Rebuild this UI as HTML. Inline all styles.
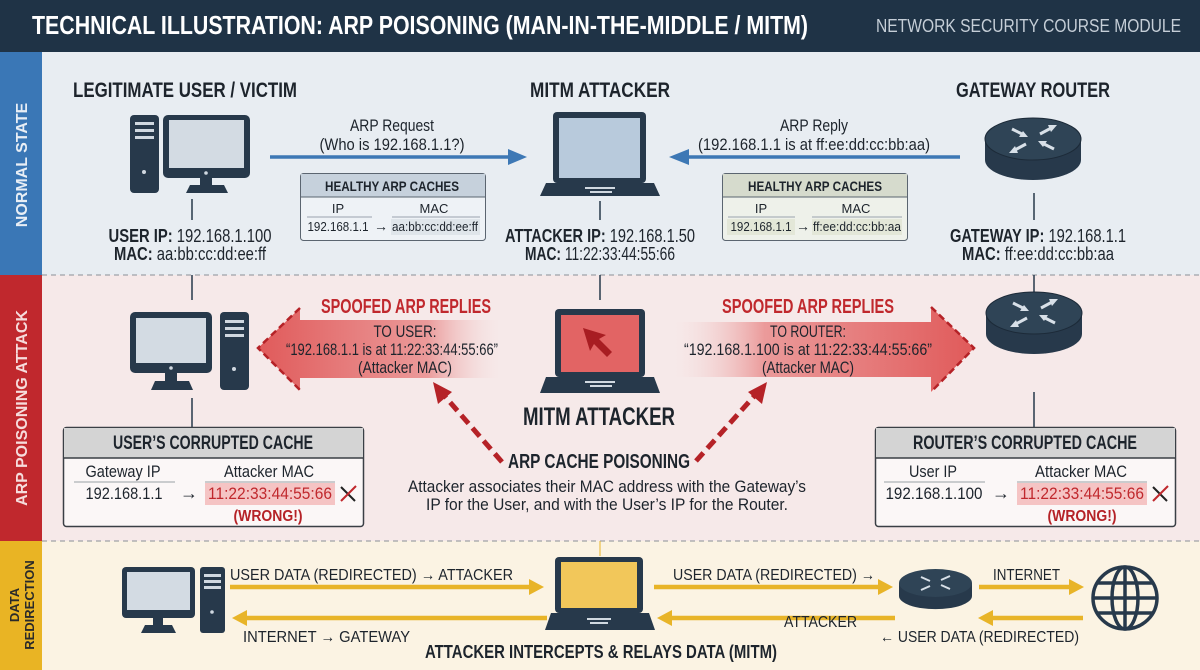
<!DOCTYPE html>
<html><head><meta charset="utf-8"><style>
html,body{margin:0;padding:0;background:#fff}
svg{display:block}
text{font-family:"Liberation Sans Narrow","Liberation Sans",sans-serif;fill:#1d242c}
.b{font-weight:bold}
</style></head><body>
<svg width="1200" height="670" viewBox="0 0 1200 670" xmlns="http://www.w3.org/2000/svg">
<defs>
<linearGradient id="gl" x1="0" x2="1" y1="0" y2="0"><stop offset="0" stop-color="#e05a5a"/><stop offset="0.7" stop-color="#eb9a9a"/><stop offset="1" stop-color="#f6e9e9" stop-opacity="0.2"/></linearGradient>
<linearGradient id="gr" x1="1" x2="0" y1="0" y2="0"><stop offset="0" stop-color="#e05a5a"/><stop offset="0.7" stop-color="#eb9a9a"/><stop offset="1" stop-color="#f6e9e9" stop-opacity="0.2"/></linearGradient>
</defs>
<rect x="0" y="0" width="1200" height="670" fill="#e8edf2"/>
<rect x="0" y="275" width="1200" height="266" fill="#f6e9e9"/>
<rect x="0" y="541" width="1200" height="129" fill="#fbf3e3"/>
<rect x="0" y="0" width="1200" height="52" fill="#1f3346"/>
<text x="32" y="34" class="b" font-size="26" style="fill:#fff" textLength="776" lengthAdjust="spacingAndGlyphs">TECHNICAL ILLUSTRATION: ARP POISONING (MAN-IN-THE-MIDDLE / MITM)</text>
<text x="876" y="32" font-size="18" style="fill:#c5ced7" textLength="305" lengthAdjust="spacingAndGlyphs">NETWORK SECURITY COURSE MODULE</text>
<rect x="0" y="52" width="42" height="223" fill="#3a77b6"/>
<rect x="0" y="275" width="42" height="266" fill="#c0282d"/>
<rect x="0" y="541" width="42" height="129" fill="#e9b424"/>
<text transform="translate(27,165) rotate(-90)" text-anchor="middle" class="b" font-size="16" style="fill:#e8eef5">NORMAL STATE</text>
<text transform="translate(27,408) rotate(-90)" text-anchor="middle" class="b" font-size="16" style="fill:#f6dcdc">ARP POISONING ATTACK</text>
<text transform="translate(19,605) rotate(-90)" text-anchor="middle" class="b" font-size="13" style="font-family:'Liberation Sans',sans-serif;fill:#2a2a2a">DATA</text>
<text transform="translate(34,605) rotate(-90)" text-anchor="middle" class="b" font-size="13" style="font-family:'Liberation Sans',sans-serif;fill:#2a2a2a">REDIRECTION</text>
<line x1="42" y1="275" x2="1200" y2="275" stroke="#8a8f96" stroke-dasharray="5,4" stroke-width="1"/>
<line x1="42" y1="541" x2="1200" y2="541" stroke="#8a8f96" stroke-dasharray="5,4" stroke-width="1"/>

<!-- NORMAL -->
<text x="185" y="97" text-anchor="middle" class="b" font-size="21" textLength="224" lengthAdjust="spacingAndGlyphs">LEGITIMATE USER / VICTIM</text>
<text x="600" y="97" text-anchor="middle" class="b" font-size="21" textLength="140" lengthAdjust="spacingAndGlyphs">MITM ATTACKER</text>
<text x="1033" y="97" text-anchor="middle" class="b" font-size="21" textLength="154" lengthAdjust="spacingAndGlyphs">GATEWAY ROUTER</text>
<rect x="130" y="115" width="29" height="78" rx="4" fill="#27394b"/>
<rect x="135" y="122" width="19" height="3" fill="#d0d8e0"/><rect x="135" y="129" width="19" height="3" fill="#d0d8e0"/><rect x="135" y="136" width="19" height="3" fill="#d0d8e0"/>
<circle cx="144" cy="172" r="2" fill="#d0d8e0"/>
<rect x="163" y="115" width="87" height="63" rx="5" fill="#27394b"/>
<rect x="169" y="120" width="75" height="48" fill="#d3dbe3"/>
<circle cx="206" cy="173" r="1.8" fill="#d0d8e0"/>
<rect x="200" y="178" width="12" height="8" fill="#27394b"/>
<path d="M186,193 L190,185 L224,185 L228,193z" fill="#27394b"/>
<line x1="192" y1="199" x2="192" y2="220" stroke="#27394b" stroke-width="1.5"/>
<text x="190" y="242" text-anchor="middle" font-size="18" textLength="163" lengthAdjust="spacingAndGlyphs"><tspan class="b">USER IP:</tspan> 192.168.1.100</text>
<text x="190" y="260" text-anchor="middle" font-size="18" textLength="152" lengthAdjust="spacingAndGlyphs"><tspan class="b">MAC:</tspan> aa:bb:cc:dd:ee:ff</text>
<text x="392" y="131" text-anchor="middle" font-size="17" textLength="84" lengthAdjust="spacingAndGlyphs">ARP Request</text>
<text x="392" y="150" text-anchor="middle" font-size="17" textLength="145" lengthAdjust="spacingAndGlyphs">(Who is 192.168.1.1?)</text>
<line x1="270" y1="157" x2="510" y2="157" stroke="#3d78b5" stroke-width="3.5"/>
<path d="M508,149 L527,157 L508,165z" fill="#3d78b5"/>
<rect x="300.5" y="173.5" width="185" height="67" rx="3" fill="#eef2f6" stroke="#5b6570"/>
<path d="M301,174 H485 V197 H301z" fill="#c6d1dc"/>
<line x1="300.5" y1="197" x2="485.5" y2="197" stroke="#5b6570"/>
<text x="392" y="191" text-anchor="middle" class="b" font-size="14" textLength="134" lengthAdjust="spacingAndGlyphs">HEALTHY ARP CACHES</text>
<text x="338" y="213" text-anchor="middle" font-size="13">IP</text>
<text x="434" y="213" text-anchor="middle" font-size="13">MAC</text>
<line x1="307" y1="217" x2="372" y2="217" stroke="#9aa3ad"/><line x1="392" y1="217" x2="480" y2="217" stroke="#9aa3ad"/>
<rect x="391" y="219" width="89" height="16" fill="#dfe5ea"/>
<text x="338" y="231" text-anchor="middle" font-size="13" textLength="61" lengthAdjust="spacingAndGlyphs">192.168.1.1</text>
<text x="381" y="231" text-anchor="middle" font-size="14" class="b">→</text>
<text x="435" y="231" text-anchor="middle" font-size="13" textLength="86" lengthAdjust="spacingAndGlyphs">aa:bb:cc:dd:ee:ff</text>
<rect x="553" y="112" width="93" height="71" rx="4" fill="#27394b"/>
<rect x="559" y="118" width="81" height="60" fill="#b8cadc"/>
<path d="M546,183 L654,183 L660,196 L540,196z" fill="#27394b"/>
<rect x="585" y="187" width="30" height="2" fill="#d0d8e0"/><rect x="590" y="191" width="22" height="2" fill="#d0d8e0"/>
<line x1="600" y1="201" x2="600" y2="220" stroke="#27394b" stroke-width="1.5"/>
<text x="600" y="242" text-anchor="middle" font-size="18" textLength="190" lengthAdjust="spacingAndGlyphs"><tspan class="b">ATTACKER IP:</tspan> 192.168.1.50</text>
<text x="600" y="260" text-anchor="middle" font-size="18" textLength="150" lengthAdjust="spacingAndGlyphs"><tspan class="b">MAC:</tspan> 11:22:33:44:55:66</text>
<text x="814" y="131" text-anchor="middle" font-size="17" textLength="68" lengthAdjust="spacingAndGlyphs">ARP Reply</text>
<text x="814" y="150" text-anchor="middle" font-size="17" textLength="232" lengthAdjust="spacingAndGlyphs">(192.168.1.1 is at ff:ee:dd:cc:bb:aa)</text>
<line x1="687" y1="157" x2="960" y2="157" stroke="#3d78b5" stroke-width="3.5"/>
<path d="M689,149 L669,157 L689,165z" fill="#3d78b5"/>
<rect x="722.5" y="173.5" width="185" height="67" rx="3" fill="#eef1ea" stroke="#5b6570"/>
<path d="M723,174 H907 V197 H723z" fill="#d6dbcd"/>
<line x1="722.5" y1="197" x2="907.5" y2="197" stroke="#5b6570"/>
<text x="815" y="191" text-anchor="middle" class="b" font-size="14" textLength="134" lengthAdjust="spacingAndGlyphs">HEALTHY ARP CACHES</text>
<text x="761" y="213" text-anchor="middle" font-size="13">IP</text>
<text x="856" y="213" text-anchor="middle" font-size="13">MAC</text>
<line x1="728" y1="217" x2="795" y2="217" stroke="#9aa3ad"/><line x1="812" y1="217" x2="902" y2="217" stroke="#9aa3ad"/>
<rect x="727" y="219" width="68" height="16" fill="#e3e7d8"/><rect x="812" y="219" width="90" height="16" fill="#e3e7d8"/>
<text x="761" y="231" text-anchor="middle" font-size="13" textLength="61" lengthAdjust="spacingAndGlyphs">192.168.1.1</text>
<text x="803" y="231" text-anchor="middle" font-size="14" class="b">→</text>
<text x="857" y="231" text-anchor="middle" font-size="13" textLength="88" lengthAdjust="spacingAndGlyphs">ff:ee:dd:cc:bb:aa</text>
<g id="rt">
<path d="M985,139 V160 A48,20 0 0 0 1081,160 V139z" fill="#27394b"/>
<ellipse cx="1033" cy="139" rx="48" ry="21" fill="#2f4456" stroke="#1c2a38" stroke-width="1"/>
<g stroke="#d8e0e8" stroke-width="3" fill="#d8e0e8">
<line x1="1012" y1="129" x2="1024" y2="135"/><line x1="1054" y1="149" x2="1042" y2="143"/>
<line x1="1040" y1="134" x2="1053" y2="127"/><line x1="1026" y1="144" x2="1013" y2="151"/>
</g>
<g fill="#d8e0e8"><path d="M1028,137 L1019,137 L1023,131z"/><path d="M1038,141 L1047,141 L1043,147z"/><path d="M1057,125 L1051,132 L1048,125z"/><path d="M1009,153 L1015,146 L1018,153z"/></g>
</g>
<line x1="1034" y1="193" x2="1034" y2="220" stroke="#27394b" stroke-width="1.5"/>
<text x="1038" y="242" text-anchor="middle" font-size="18" textLength="176" lengthAdjust="spacingAndGlyphs"><tspan class="b">GATEWAY IP:</tspan> 192.168.1.1</text>
<text x="1038" y="260" text-anchor="middle" font-size="18" textLength="152" lengthAdjust="spacingAndGlyphs"><tspan class="b">MAC:</tspan> ff:ee:dd:cc:bb:aa</text>

<!-- ATTACK -->
<line x1="192" y1="275" x2="192" y2="300" stroke="#27394b" stroke-width="1.5"/>
<line x1="600" y1="275" x2="600" y2="300" stroke="#27394b" stroke-width="1.5"/>
<line x1="1034" y1="275" x2="1034" y2="305" stroke="#27394b" stroke-width="1.5"/>
<rect x="130" y="312" width="82" height="61" rx="5" fill="#27394b"/>
<rect x="136" y="318" width="70" height="45" fill="#d3dbe3"/>
<circle cx="171" cy="368" r="1.8" fill="#d0d8e0"/>
<rect x="165" y="373" width="12" height="8" fill="#27394b"/>
<path d="M151,390 L155,381 L189,381 L193,390z" fill="#27394b"/>
<rect x="220" y="312" width="29" height="78" rx="4" fill="#27394b"/>
<rect x="225" y="320" width="19" height="3" fill="#d0d8e0"/><rect x="225" y="327" width="19" height="3" fill="#d0d8e0"/><rect x="225" y="334" width="19" height="3" fill="#d0d8e0"/>
<circle cx="234" cy="369" r="2" fill="#d0d8e0"/>
<line x1="192" y1="398" x2="192" y2="428" stroke="#27394b" stroke-width="1.5"/>
<path d="M500,320 L300,320 L300,308 L258,348 L300,390 L300,378 L500,378z" fill="url(#gl)"/>
<path d="M300,308 L258,348 L300,390" fill="none" stroke="#b52227" stroke-width="2.5" stroke-dasharray="7,4"/>
<text x="406" y="313" text-anchor="middle" class="b" font-size="20" style="fill:#c0282d" textLength="170" lengthAdjust="spacingAndGlyphs">SPOOFED ARP REPLIES</text>
<text x="405" y="337" text-anchor="middle" font-size="17" textLength="63" lengthAdjust="spacingAndGlyphs">TO USER:</text>
<text x="392" y="355" text-anchor="middle" font-size="17" textLength="212" lengthAdjust="spacingAndGlyphs">“192.168.1.1 is at 11:22:33:44:55:66”</text>
<text x="405" y="373" text-anchor="middle" font-size="17" textLength="94" lengthAdjust="spacingAndGlyphs">(Attacker MAC)</text>
<path d="M675,322 L931,322 L931,307 L974,348 L931,392 L931,377 L675,377z" fill="url(#gr)"/>
<path d="M931,307 L974,348 L931,392" fill="none" stroke="#b52227" stroke-width="2.5" stroke-dasharray="7,4"/>
<text x="808" y="313" text-anchor="middle" class="b" font-size="20" style="fill:#c0282d" textLength="172" lengthAdjust="spacingAndGlyphs">SPOOFED ARP REPLIES</text>
<text x="808" y="337" text-anchor="middle" font-size="17" textLength="76" lengthAdjust="spacingAndGlyphs">TO ROUTER:</text>
<text x="808" y="355" text-anchor="middle" font-size="17" textLength="248" lengthAdjust="spacingAndGlyphs">“192.168.1.100 is at 11:22:33:44:55:66”</text>
<text x="808" y="373" text-anchor="middle" font-size="17" textLength="92" lengthAdjust="spacingAndGlyphs">(Attacker MAC)</text>
<rect x="555" y="309" width="90" height="68" rx="4" fill="#27394b"/>
<rect x="561" y="315" width="78" height="57" fill="#e26464"/>
<path d="M583,328 L606,335 L599,339 L612,352 L607,357 L594,344 L590,351z" fill="#a81d22"/>
<path d="M546,377 L654,377 L660,393 L540,393z" fill="#27394b"/>
<rect x="585" y="381" width="30" height="2" fill="#d0d8e0"/><rect x="590" y="385" width="22" height="2" fill="#d0d8e0"/>
<text x="599" y="425" text-anchor="middle" class="b" font-size="25" textLength="152" lengthAdjust="spacingAndGlyphs">MITM ATTACKER</text>
<line x1="502" y1="462" x2="442" y2="393" stroke="#b52227" stroke-width="5" stroke-dasharray="11,6"/>
<path d="M433,382 L452,392 L438,404z" fill="#b52227"/>
<line x1="696" y1="461" x2="757" y2="393" stroke="#b52227" stroke-width="5" stroke-dasharray="11,6"/>
<path d="M767,382 L762,404 L748,392z" fill="#b52227"/>
<text x="599" y="468" text-anchor="middle" class="b" font-size="20" textLength="182" lengthAdjust="spacingAndGlyphs">ARP CACHE POISONING</text>
<text x="607" y="492" text-anchor="middle" font-size="16.5" textLength="398" lengthAdjust="spacingAndGlyphs">Attacker associates their MAC address with the Gateway’s</text>
<text x="607" y="510" text-anchor="middle" font-size="16.5" textLength="362" lengthAdjust="spacingAndGlyphs">IP for the User, and with the User’s IP for the Router.</text>
<use href="#rt" transform="translate(1,174)"/>
<line x1="1034" y1="392" x2="1034" y2="428" stroke="#27394b" stroke-width="1.5"/>
<!-- user's cache -->
<rect x="63.5" y="427.5" width="300" height="99" rx="3" fill="#fbf7f7" stroke="#3a3f45" stroke-width="1.5"/>
<path d="M64,428 H363 V458 H64z" fill="#d4d4d4"/>
<line x1="63.5" y1="458" x2="363.5" y2="458" stroke="#3a3f45" stroke-width="1.5"/>
<text x="213" y="449" text-anchor="middle" class="b" font-size="19" textLength="200" lengthAdjust="spacingAndGlyphs">USER’S CORRUPTED CACHE</text>
<text x="123" y="477" text-anchor="middle" font-size="17" textLength="75" lengthAdjust="spacingAndGlyphs">Gateway IP</text>
<text x="269" y="477" text-anchor="middle" font-size="17" textLength="90" lengthAdjust="spacingAndGlyphs">Attacker MAC</text>
<line x1="74" y1="482" x2="175" y2="482" stroke="#9aa0a6"/><line x1="205" y1="482" x2="335" y2="482" stroke="#9aa0a6"/>
<rect x="205" y="483" width="130" height="22" fill="#f5c4c4"/>
<text x="124" y="499" text-anchor="middle" font-size="17" textLength="77" lengthAdjust="spacingAndGlyphs">192.168.1.1</text>
<text x="189" y="499" text-anchor="middle" font-size="18" class="b">→</text>
<text x="270" y="499" text-anchor="middle" font-size="17" style="fill:#c0282d" textLength="124" lengthAdjust="spacingAndGlyphs">11:22:33:44:55:66</text>
<text x="268" y="521" text-anchor="middle" class="b" font-size="16" style="fill:#b52227" textLength="69" lengthAdjust="spacingAndGlyphs">(WRONG!)</text>
<g stroke-width="2"><line x1="341" y1="487" x2="355" y2="501" stroke="#222"/><line x1="341" y1="501" x2="356" y2="486" stroke="#c0282d"/></g>
<!-- router's cache -->
<rect x="875.5" y="427.5" width="300" height="99" rx="3" fill="#fbf7f7" stroke="#3a3f45" stroke-width="1.5"/>
<path d="M876,428 H1175 V458 H876z" fill="#d4d4d4"/>
<line x1="875.5" y1="458" x2="1175.5" y2="458" stroke="#3a3f45" stroke-width="1.5"/>
<text x="1025" y="449" text-anchor="middle" class="b" font-size="19" textLength="224" lengthAdjust="spacingAndGlyphs">ROUTER’S CORRUPTED CACHE</text>
<text x="933" y="477" text-anchor="middle" font-size="17" textLength="48" lengthAdjust="spacingAndGlyphs">User IP</text>
<text x="1081" y="477" text-anchor="middle" font-size="17" textLength="92" lengthAdjust="spacingAndGlyphs">Attacker MAC</text>
<line x1="884" y1="482" x2="985" y2="482" stroke="#9aa0a6"/><line x1="1017" y1="482" x2="1147" y2="482" stroke="#9aa0a6"/>
<rect x="1017" y="483" width="130" height="22" fill="#f5c4c4"/>
<text x="934" y="499" text-anchor="middle" font-size="17" textLength="97" lengthAdjust="spacingAndGlyphs">192.168.1.100</text>
<text x="1001" y="499" text-anchor="middle" font-size="18" class="b">→</text>
<text x="1082" y="499" text-anchor="middle" font-size="17" style="fill:#c0282d" textLength="124" lengthAdjust="spacingAndGlyphs">11:22:33:44:55:66</text>
<text x="1082" y="521" text-anchor="middle" class="b" font-size="16" style="fill:#b52227" textLength="69" lengthAdjust="spacingAndGlyphs">(WRONG!)</text>
<g stroke-width="2"><line x1="1153" y1="487" x2="1167" y2="501" stroke="#222"/><line x1="1153" y1="501" x2="1168" y2="486" stroke="#c0282d"/></g>

<!-- DATA -->
<rect x="122" y="567" width="73" height="51" rx="4" fill="#27394b"/>
<rect x="127" y="572" width="63" height="38" fill="#d3dbe3"/>
<rect x="153" y="618" width="10" height="7" fill="#27394b"/>
<path d="M141,633 L145,625 L172,625 L176,633z" fill="#27394b"/>
<rect x="200" y="567" width="25" height="66" rx="3" fill="#27394b"/>
<rect x="204" y="574" width="17" height="3" fill="#d0d8e0"/><rect x="204" y="580" width="17" height="3" fill="#d0d8e0"/><rect x="204" y="586" width="17" height="3" fill="#d0d8e0"/>
<circle cx="212" cy="612" r="1.8" fill="#d0d8e0"/>
<line x1="600" y1="541" x2="600" y2="556" stroke="#e8b428" stroke-width="1"/>
<rect x="555" y="557" width="88" height="56" rx="4" fill="#27394b"/>
<rect x="561" y="562" width="76" height="46" fill="#f2c75a"/>
<path d="M551,613 L649,613 L655,630 L545,630z" fill="#27394b"/>
<rect x="587" y="618" width="24" height="2" fill="#d0d8e0"/><rect x="590" y="622" width="18" height="2" fill="#d0d8e0"/>
<path d="M899,583 V596 A36,13 0 0 0 972,596 V583z" fill="#27394b"/>
<ellipse cx="935.5" cy="583" rx="36.5" ry="14" fill="#2f4456"/>
<g stroke="#d8e0e8" stroke-width="2"><line x1="921" y1="577" x2="930" y2="581"/><line x1="950" y1="589" x2="941" y2="585"/><line x1="941" y1="580" x2="950" y2="576"/><line x1="930" y1="586" x2="921" y2="590"/></g>
<g fill="none" stroke="#27394b" stroke-width="3.5">
<ellipse cx="1125" cy="598" rx="32" ry="31"/>
<ellipse cx="1125" cy="598" rx="13" ry="31"/>
<line x1="1125" y1="567" x2="1125" y2="629"/>
<line x1="1093" y1="598" x2="1157" y2="598"/>
<line x1="1097" y1="583" x2="1153" y2="583"/><line x1="1097" y1="613" x2="1153" y2="613"/>
</g>
<g stroke="#e8b428" stroke-width="4.5">
<line x1="230" y1="587" x2="531" y2="587"/>
<line x1="654" y1="587" x2="880" y2="587"/>
<line x1="979" y1="587" x2="1071" y2="587"/>
<line x1="1083" y1="618" x2="991" y2="618"/>
<line x1="895" y1="618" x2="670" y2="618"/>
<line x1="547" y1="618" x2="245" y2="618"/>
</g>
<g fill="#e8b428">
<path d="M529,579 L544,587 L529,595z"/><path d="M878,579 L893,587 L878,595z"/><path d="M1069,579 L1084,587 L1069,595z"/>
<path d="M993,610 L978,618 L993,626z"/><path d="M672,610 L657,618 L672,626z"/><path d="M247,610 L232,618 L247,626z"/>
</g>
<text x="230" y="580" font-size="16" textLength="283" lengthAdjust="spacingAndGlyphs">USER DATA (REDIRECTED) → ATTACKER</text>
<text x="243" y="642" font-size="16" textLength="167" lengthAdjust="spacingAndGlyphs">INTERNET → GATEWAY</text>
<text x="673" y="580" font-size="16" textLength="202" lengthAdjust="spacingAndGlyphs">USER DATA (REDIRECTED) →</text>
<text x="993" y="580" font-size="16" textLength="67" lengthAdjust="spacingAndGlyphs">INTERNET</text>
<text x="784" y="627" font-size="16" textLength="73" lengthAdjust="spacingAndGlyphs">ATTACKER</text>
<text x="880" y="642" font-size="16" textLength="199" lengthAdjust="spacingAndGlyphs">← USER DATA (REDIRECTED)</text>
<text x="425" y="658" class="b" font-size="18" textLength="352" lengthAdjust="spacingAndGlyphs">ATTACKER INTERCEPTS &amp; RELAYS DATA (MITM)</text>
</svg>
</body></html>
